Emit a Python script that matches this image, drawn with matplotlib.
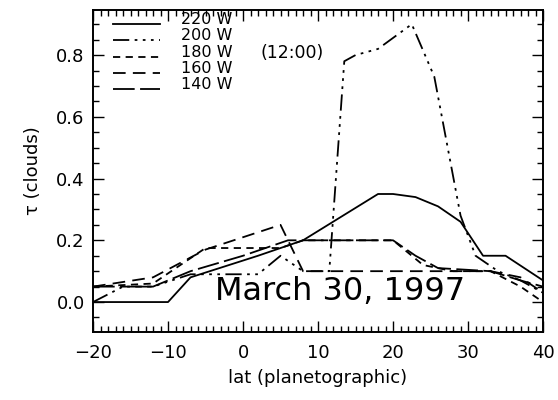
import matplotlib
matplotlib.use("Agg")
import matplotlib.pyplot as plt
from matplotlib.ticker import MultipleLocator

# ---- data ----
labels = ["220 W", "200 W", "180 W", "160 W", "140 W"]

lat_220 = [-20, -10, -7, 2, 8, 18, 20, 23, 26, 29, 32, 35, 40]
tau_220 = [0.0, 0.0, 0.08, 0.15, 0.2, 0.35, 0.35, 0.34, 0.31, 0.26, 0.15, 0.15, 0.07]

lat_200 = [-20, -16, -12, -7, 2, 5, 8, 11.5, 13.5, 15, 18, 22.5, 25.5, 29, 31, 34, 37, 40]
tau_200 = [0.0, 0.05, 0.05, 0.09, 0.09, 0.15, 0.1, 0.1, 0.78, 0.8, 0.82, 0.9, 0.73, 0.28, 0.15, 0.1, 0.07, 0.03]

lat_180 = [-20, -12, -5, 5, 8, 20, 24, 28, 33, 37, 40]
tau_180 = [0.05, 0.06, 0.175, 0.175, 0.2, 0.2, 0.12, 0.1, 0.1, 0.05, 0.0]

lat_160 = [-20, -12, -5, 5, 8, 30, 33, 37, 40]
tau_160 = [0.05, 0.08, 0.17, 0.25, 0.1, 0.1, 0.1, 0.08, 0.03]

lat_140 = [-20, -12, -7, 0, 6, 20, 23, 26, 33, 37, 40]
tau_140 = [0.05, 0.05, 0.1, 0.15, 0.2, 0.2, 0.15, 0.11, 0.1, 0.07, 0.05]

series = [(lat_220, tau_220), (lat_200, tau_200), (lat_180, tau_180),
          (lat_160, tau_160), (lat_140, tau_140)]
styles = ["-", (0, (9, 3, 1.5, 3, 1.5, 3, 1.5, 3)), (0, (4, 3)), (0, (7, 4)), (0, (12, 3))]

date_text = "March 30, 1997"
time_text = "(12:00)"

plt.rcParams["font.family"] = ["DejaVu Sans"]
fig = plt.figure(figsize=(5.58, 4.0), dpi=100)
ax = fig.add_axes([0.1667, 0.17, 0.8065, 0.805])

for (x, y), ls in zip(series, styles):
    ax.plot(x, y, color="black", lw=1.3, linestyle=ls)

ax.set_xlim(-20, 40)
ax.set_ylim(-0.097, 0.946)
ax.xaxis.set_minor_locator(MultipleLocator(1))
ax.yaxis.set_minor_locator(MultipleLocator(0.05))
ax.set_yticks([0.0, 0.2, 0.4, 0.6, 0.8])
ax.set_yticklabels(["0.0", "0.2", "0.4", "0.6", "0.8"])
ax.set_xticks([-20, -10, 0, 10, 20, 30, 40])
ax.set_xticklabels(["\u221220", "\u221210", "0", "10", "20", "30", "40"])
ax.tick_params(which="both", direction="in", top=True, right=True, width=1.0, labelsize=13)
ax.tick_params(which="major", length=8)
ax.tick_params(which="minor", length=4)
ax.tick_params(axis="x", pad=9)
ax.tick_params(axis="y", pad=6)
for s in ax.spines.values():
    s.set_linewidth(1.4)

ax.set_xlabel("lat (planetographic)", fontsize=13, labelpad=5)
ax.set_ylabel("\u03c4 (clouds)", fontsize=13, labelpad=10)

# legend drawn as keys + stacked labels
rows_y = [0.972, 0.922, 0.868, 0.818, 0.768]
for ls, lab, yy in zip(styles, labels, rows_y):
    ax.plot([0.044, 0.149], [yy - 0.014, yy - 0.014], transform=ax.transAxes,
            color="black", lw=1.3, linestyle=ls)
    ax.text(0.195, yy, lab, transform=ax.transAxes, fontsize=11.5,
            va="center", ha="left")
ax.text(0.372, rows_y[2], time_text, transform=ax.transAxes, fontsize=12.5,
        va="center", ha="left")

ax.text(0.55, 0.1, date_text, transform=ax.transAxes, fontsize=23,
        va="baseline", ha="center")

fig.savefig("out.png", dpi=100)
